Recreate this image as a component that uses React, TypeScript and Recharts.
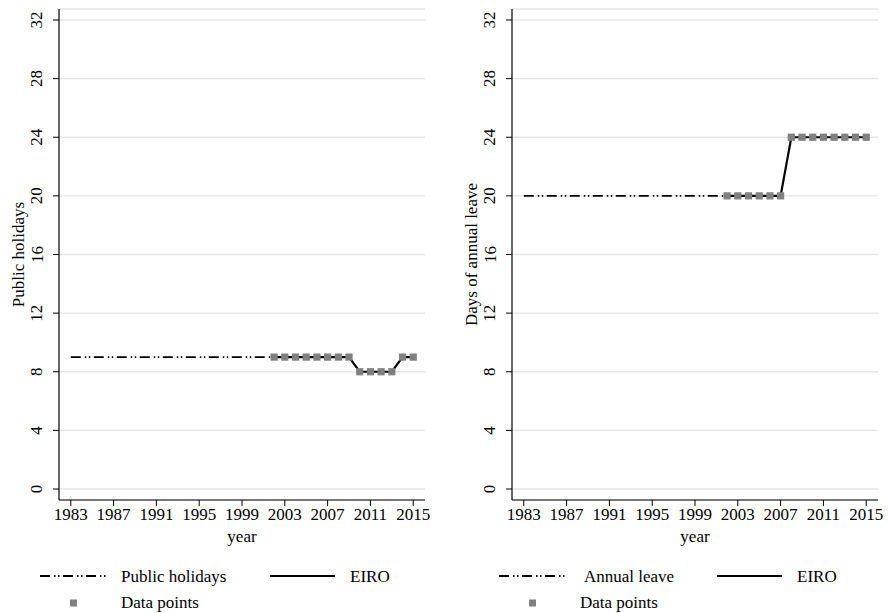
import React from 'react';
import { LineChart, Line, XAxis, YAxis, CartesianGrid, Legend, Label } from 'recharts';

// Years covered by the panels
const years = [
  1983, 1984, 1985, 1986, 1987, 1988, 1989, 1990, 1991, 1992, 1993,
  1994, 1995, 1996, 1997, 1998, 1999, 2000, 2001, 2002, 2003, 2004,
  2005, 2006, 2007, 2008, 2009, 2010, 2011, 2012, 2013, 2014, 2015,
];

const yearTicks = [1983, 1987, 1991, 1995, 1999, 2003, 2007, 2011, 2015];
const valueTicks = [0, 4, 8, 12, 16, 20, 24, 28, 32];

// Baseline series (1983–2002)
const holidayBaseYears = [1983, 1984, 1985, 1986, 1987, 1988, 1989, 1990, 1991, 1992, 1993, 1994, 1995, 1996, 1997, 1998, 1999, 2000, 2001, 2002];
const holidayBase = [9, 9, 9, 9, 9, 9, 9, 9, 9, 9, 9, 9, 9, 9, 9, 9, 9, 9, 9, 9];
const leaveBase = [20, 20, 20, 20, 20, 20, 20, 20, 20, 20, 20, 20, 20, 20, 20, 20, 20, 20, 20, 20];

// EIRO observations (2002–2015)
const eiroYears = [2002, 2003, 2004, 2005, 2006, 2007, 2008, 2009, 2010, 2011, 2012, 2013, 2014, 2015];
const holidayEiro = [9, 9, 9, 9, 9, 9, 9, 9, 8, 8, 8, 8, 9, 9];
const leaveEiro = [20, 20, 20, 20, 20, 20, 24, 24, 24, 24, 24, 24, 24, 24];

const buildRows = (base: number[], eiro: number[]) =>
  years.map((year) => {
    const bi = holidayBaseYears.indexOf(year);
    const ei = eiroYears.indexOf(year);
    return {
      year,
      base: bi >= 0 ? base[bi] : null,
      eiro: ei >= 0 ? eiro[ei] : null,
    };
  });

const holidayRows = buildRows(holidayBase, holidayEiro);
const leaveRows = buildRows(leaveBase, leaveEiro);

const FONT = '"Liberation Serif", "Times New Roman", serif';
const FS = 17;
const DASH_DOT = '10 4 1.5 2.5 1.5 3.5';
const POINT_GRAY = '#808080';

const SquareDot = (props: any) => {
  const { cx, cy } = props;
  if (cx == null || cy == null || props.value == null) return null;
  return <rect x={cx - 3.6} y={cy - 3.6} width={7.2} height={7.2} fill={POINT_GRAY} />;
};

const RotatedTick = (props: any) => {
  const { x, y, payload } = props;
  return (
    <text
      x={x}
      y={y}
      transform={`rotate(-90 ${x} ${y})`}
      textAnchor="middle"
      dominantBaseline="central"
      fontFamily={FONT}
      fontSize={FS}
      fill="#000"
    >
      {payload.value}
    </text>
  );
};

const YearTick = (props: any) => {
  const { x, y, payload } = props;
  return (
    <text x={x} y={y + 14} textAnchor="middle" fontFamily={FONT} fontSize={FS} fill="#000">
      {payload.value}
    </text>
  );
};

type LegendSpec = {
  seriesName: string;
  dashFrom: number;
  dashTo: number;
  seriesText: number;
  eiroFrom: number;
  eiroTo: number;
  eiroText: number;
  square: number;
  pointsText: number;
};

const PanelLegend = ({ spec }: { spec: LegendSpec }) => (
  <div style={{ position: 'relative', width: 0, height: 0 }}>
    <svg
      width={444}
      height={613}
      style={{ position: 'absolute', left: 0, top: 0, overflow: 'visible', pointerEvents: 'none' }}
    >
      <line x1={spec.dashFrom} x2={spec.dashTo} y1={576} y2={576} stroke="#000" strokeWidth={1.8} strokeDasharray={DASH_DOT} />
      <text x={spec.seriesText} y={582} fontFamily={FONT} fontSize={FS} fill="#000">{spec.seriesName}</text>
      <line x1={spec.eiroFrom} x2={spec.eiroTo} y1={576} y2={576} stroke="#000" strokeWidth={2} />
      <text x={spec.eiroText} y={582} fontFamily={FONT} fontSize={FS} fill="#000">EIRO</text>
      <rect x={spec.square - 3.5} y={599.5} width={7} height={7} fill={POINT_GRAY} />
      <text x={spec.pointsText} y={608} fontFamily={FONT} fontSize={FS} fill="#000">Data points</text>
    </svg>
  </div>
);

type PanelProps = {
  rows: { year: number; base: number | null; eiro: number | null }[];
  yLabel: string;
  seriesName: string;
  axisWidth: number;
  rightMargin: number;
  legend: LegendSpec;
};

const Panel = ({ rows, yLabel, seriesName, axisWidth, rightMargin, legend }: PanelProps) => (
  <LineChart
    width={444}
    height={613}
    data={rows}
    margin={{ top: 9, right: rightMargin, bottom: 73, left: 0 }}
  >
    <CartesianGrid horizontal vertical={false} stroke="#e6e6e6" strokeWidth={1.3} />
    <XAxis
      dataKey="year"
      type="number"
      domain={[1981.9, 2016.1]}
      ticks={yearTicks}
      allowDataOverflow
      height={40}
      tickSize={6}
      tickMargin={0}
      tick={<YearTick />}
      stroke="#000"
      tickLine={{ stroke: '#000' }}
      axisLine={{ stroke: '#000', strokeWidth: 1.2 }}
    >
      <Label
        content={(p: any) => {
          const vb = p.viewBox;
          return (
            <text x={vb.x + vb.width / 2} y={vb.y + 42} textAnchor="middle" fontFamily={FONT} fontSize={FS} fill="#000">
              year
            </text>
          );
        }}
      />
    </XAxis>
    <YAxis
      type="number"
      domain={[-0.75, 32.75]}
      ticks={valueTicks}
      allowDataOverflow
      width={axisWidth}
      tickSize={6}
      tickMargin={16}
      tick={<RotatedTick />}
      stroke="#000"
      axisLine={{ stroke: '#000', strokeWidth: 1.2 }}
      tickLine={{ stroke: '#000' }}
    >
      <Label
        content={(p: any) => {
          const vb = p.viewBox;
          const x = vb.x + vb.width - 41;
          const y = vb.y + vb.height / 2;
          return (
            <text
              x={x}
              y={y}
              transform={`rotate(-90 ${x} ${y})`}
              textAnchor="middle"
              dominantBaseline="central"
              fontFamily={FONT}
              fontSize={FS}
              fill="#000"
            >
              {yLabel}
            </text>
          );
        }}
      />
    </YAxis>
    <Line
      dataKey="base"
      name={seriesName}
      stroke="#000"
      strokeWidth={1.8}
      strokeDasharray={DASH_DOT}
      dot={false}
      activeDot={false}
      connectNulls={false}
      isAnimationActive={false}
    />
    <Line
      dataKey="eiro"
      name="EIRO"
      stroke="#000"
      strokeWidth={2.2}
      dot={<SquareDot />}
      activeDot={false}
      connectNulls={false}
      isAnimationActive={false}
    />
    <Legend
      wrapperStyle={{ left: 0, top: 0, bottom: 'auto', width: 0, height: 0 }}
      content={() => <PanelLegend spec={legend} />}
    />
  </LineChart>
);

export default function App() {
  return (
    <div style={{ position: 'absolute', left: 0, top: 0, width: 888, height: 613, background: '#fff', display: 'flex' }}>
      <Panel
        rows={holidayRows}
        yLabel="Public holidays"
        seriesName="Public holidays"
        axisWidth={59}
        rightMargin={19}
        legend={{
          seriesName: 'Public holidays',
          dashFrom: 40,
          dashTo: 106,
          seriesText: 121,
          eiroFrom: 270,
          eiroTo: 335,
          eiroText: 350,
          square: 73.5,
          pointsText: 121,
        }}
      />
      <Panel
        rows={leaveRows}
        yLabel="Days of annual leave"
        seriesName="Annual leave"
        axisWidth={68}
        rightMargin={10}
        legend={{
          seriesName: 'Annual leave',
          dashFrom: 55,
          dashTo: 121,
          seriesText: 140,
          eiroFrom: 273,
          eiroTo: 338,
          eiroText: 353,
          square: 88.5,
          pointsText: 136,
        }}
      />
    </div>
  );
}
